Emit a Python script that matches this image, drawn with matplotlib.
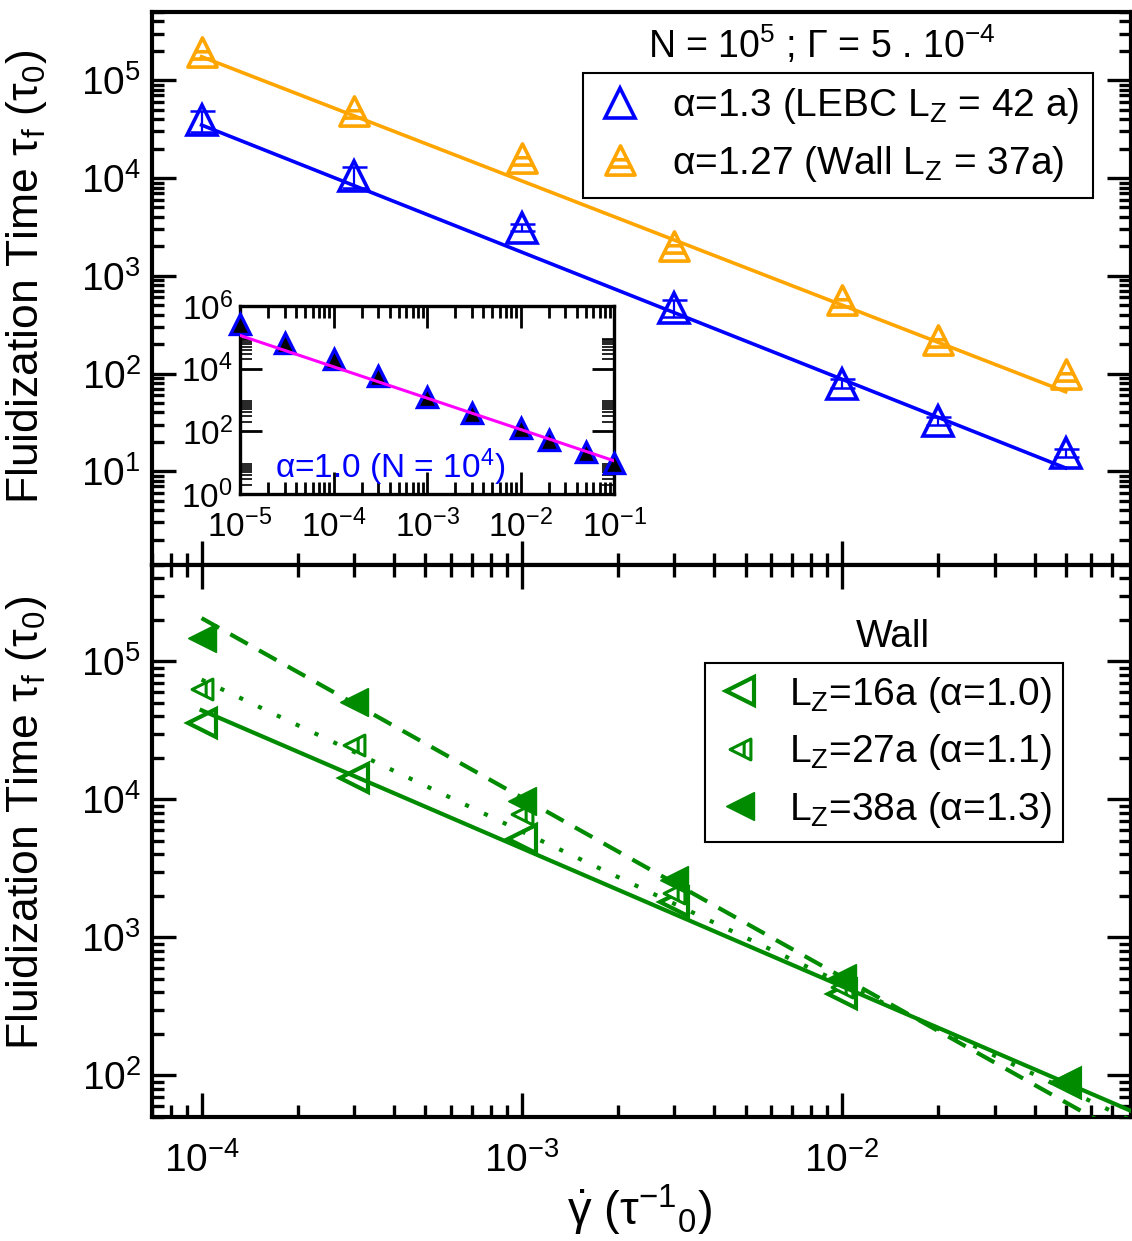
import numpy as np
import matplotlib
matplotlib.use("Agg")
import matplotlib.pyplot as plt
from matplotlib.path import Path
from matplotlib.lines import Line2D
from matplotlib.ticker import LogLocator, FixedLocator, NullFormatter

plt.rcParams['font.family'] = ['Liberation Sans', 'DejaVu Sans']
plt.rcParams['mathtext.fontset'] = 'custom'
plt.rcParams['mathtext.rm'] = 'Liberation Sans'
plt.rcParams['mathtext.it'] = 'Liberation Sans:italic'
plt.rcParams['mathtext.bf'] = 'Liberation Sans:bold'
plt.rcParams['axes.unicode_minus'] = False

# ---- top panel: N = 1e5, Gamma = 5e-4 ----
shear = [1e-4, 3e-4, 1e-3, 3e-3, 1e-2, 2e-2, 5e-2]
tau_lebc = [3.9e4, 1.04e4, 3.1e3, 4.7e2, 79, 33, 15.5]
tau_lebc_err = [9.4e3, 2.5e3, 2.5e2, 90, 8, 3, 1.5]
tau_wall37 = [1.95e5, 4.9e4, 1.6e4, 2.0e3, 5.6e2, 2.2e2, 1.0e2]

alpha_lebc, amp_lebc = 1.3, 0.22
alpha_wall37, amp_wall37 = 1.27, 1.45
fit_range_top = [1e-4, 5e-2]

# ---- inset: N = 1e4 ----
shear_small = [1e-5, 3e-5, 1e-4, 3e-4, 1e-3, 3e-3, 1e-2, 2e-2, 5e-2, 1e-1]
tau_small = [2.6e5, 6.6e4, 2.0e4, 5.8e3, 1.26e3, 3.8e2, 1.24e2, 52, 22, 9.6]
alpha_small, amp_small = 1.0, 1.15
fit_range_small = [1e-5, 1e-1]

# ---- bottom panel: wall, several L_Z ----
shear_wall = [1e-4, 3e-4, 1e-3, 3e-3, 1e-2, 5e-2]
tau_lz16 = [3.6e4, 1.44e4, 5.2e3, 1.8e3, 3.9e2, 88]
tau_lz27 = [6.3e4, 2.5e4, 7.8e3, 2.1e3, 4.4e2, 90]
tau_lz38 = [1.47e5, 5.1e4, 9.7e3, 2.6e3, 5.1e2, 91]
alpha_lz16, amp_lz16 = 1.0, 4.43
alpha_lz27, amp_lz27 = 1.1, 2.94
alpha_lz38, amp_lz38 = 1.3, 1.30
fit_range_wall = [1e-4, 1e-1]

BLUE = '#0000ff'
ORANGE = '#ffa500'
GREEN = '#008b00'
MAGENTA = '#ff00ff'


def power_law(xr, amp, alpha):
    xr = np.asarray(xr)
    return xr, amp * xr ** (-alpha)


M, L, C = Path.MOVETO, Path.LINETO, Path.CLOSEPOLY
# up triangle with two horizontal stripes inside
tri_striped = Path([(0, 1), (-1, -1), (1, -1), (0, 1),
                    (-0.52, 0.05), (0.52, 0.05), (-0.72, -0.45), (0.72, -0.45)],
                   [M, L, L, C, M, L, M, L])
# left triangle with one vertical stripe inside
left_striped = Path([(-1, 0), (1, 1), (1, -1), (-1, 0), (0.35, -0.67), (0.35, 0.67)],
                    [M, L, L, C, M, L])

W, H = 1132, 1241


def box(l, t, r, b):
    return [l / W, 1 - b / H, (r - l) / W, (b - t) / H]


fig = plt.figure(figsize=(W / 100, H / 100), dpi=100)
ax1 = fig.add_axes(box(152, 12, 1131, 565))
ax2 = fig.add_axes(box(152, 565, 1131, 1117))
axin = fig.add_axes(box(240, 306, 614, 494))


def style_axis(ax, major, minor, width, spine):
    for s in ax.spines.values():
        s.set_linewidth(spine)
    ax.set_xscale('log')
    ax.set_yscale('log')
    ax.tick_params(which='both', direction='in', width=width, left=True, right=True)
    ax.tick_params(which='major', length=major)
    ax.tick_params(which='minor', length=minor)


for ax in (ax1, ax2):
    style_axis(ax, 17, 8.5, 2.4, 3)
    ax.set_xlim(7e-5, 8e-2)
    ax.xaxis.set_major_locator(LogLocator(base=10, numticks=20))
    ax.xaxis.set_minor_locator(LogLocator(base=10, subs=np.arange(2, 10), numticks=20))
    ax.xaxis.set_minor_formatter(NullFormatter())
    ax.yaxis.set_major_locator(LogLocator(base=10, numticks=20))
    ax.yaxis.set_minor_locator(LogLocator(base=10, subs=np.arange(2, 10), numticks=20))
    ax.yaxis.set_minor_formatter(NullFormatter())
    ax.tick_params(axis='y', labelsize=28, pad=8)

ax1.set_ylim(1.1, 5e5)
ax1.tick_params(which='both', top=False, bottom=True, labelbottom=False)
ax2.set_ylim(50, 5e5)
ax2.tick_params(which='both', top=True, bottom=True)
ax2.tick_params(axis='x', labelsize=28, pad=18)

# top panel
ax1.plot(shear, tau_lebc, ls='none', marker='^', ms=21, mfc='white', mec=BLUE, mew=2.6, zorder=3)
ax1.errorbar(shear, tau_lebc, yerr=tau_lebc_err, fmt='none', ecolor=BLUE, elinewidth=1.6,
             capsize=9, capthick=1.8, zorder=4)
ax1.plot(shear, tau_wall37, ls='none', marker=tri_striped, ms=21, mfc='white', mec=ORANGE,
         mew=2.6, zorder=3)
ax1.plot(*power_law(fit_range_top, amp_lebc, alpha_lebc), color=BLUE, lw=2.6, zorder=5)
ax1.plot(*power_law(fit_range_top, amp_wall37, alpha_wall37), color=ORANGE, lw=2.6, zorder=5)

h_lebc = Line2D([], [], ls='none', marker='^', ms=21, mfc='white', mec=BLUE, mew=2.6)
h_wall = Line2D([], [], ls='none', marker=tri_striped, ms=21, mfc='white', mec=ORANGE, mew=2.6)
leg1 = ax1.legend([h_lebc, h_wall],
                  [r'α=1.3 (LEBC L$_\mathregular{Z}$ = 42 a)',
                   r'α=1.27 (Wall L$_\mathregular{Z}$ = 37a)'],
                  loc='upper left', bbox_to_anchor=(0.440, 0.890), borderaxespad=0,
                  fancybox=False, framealpha=1, edgecolor='black', fontsize=28,
                  handlelength=1.2, handletextpad=0.75, borderpad=0.35, labelspacing=0.45)
leg1.get_frame().set_linewidth(1.5)

ax1.text(0.684, 0.940, r'N = 10$^\mathregular{5}$ ; $\mathregular{\Gamma}$ = 5 . 10$^\mathregular{-4}$',
         transform=ax1.transAxes, ha='center', va='center', fontsize=27)

# inset
style_axis(axin, 16, 8.5, 2.0, 2.4)
axin.set_xlim(1e-5, 1e-1)
axin.set_ylim(1, 1e6)
axin.xaxis.set_major_locator(LogLocator(base=10, numticks=20))
axin.xaxis.set_minor_locator(LogLocator(base=10, subs=np.arange(2, 10), numticks=20))
axin.xaxis.set_minor_formatter(NullFormatter())
axin.yaxis.set_major_locator(FixedLocator([1, 1e2, 1e4, 1e6]))
axin.yaxis.set_minor_locator(FixedLocator([k * 10.0 ** j for j in (0, 2, 4) for k in range(2, 10)]))
axin.yaxis.set_minor_formatter(NullFormatter())
axin.tick_params(which='both', top=True, bottom=True)
axin.tick_params(axis='y', which='minor', width=1.2)
axin.tick_params(labelsize=24)
axin.tick_params(axis='x', pad=11)
axin.tick_params(axis='y', pad=5)
axin.plot(shear_small, tau_small, ls='none', marker='^', ms=15, mfc='black', mec=BLUE, mew=2.4,
          zorder=3, clip_on=False)
axin.plot(*power_law(fit_range_small, amp_small, alpha_small), color=MAGENTA, lw=2.2, zorder=4)
axin.text(0.094, 0.14, r'α=1.0 (N = 10$^\mathregular{4}$)', transform=axin.transAxes,
          ha='left', va='center', color=BLUE, fontsize=24)

# bottom panel
ax2.plot(shear_wall, tau_lz16, ls='none', marker='<', ms=20, mfc='white', mec=GREEN, mew=3, zorder=3)
ax2.plot(shear_wall, tau_lz27, ls='none', marker=left_striped, ms=15, mfc='white', mec=GREEN,
         mew=2.2, zorder=3)
ax2.plot(shear_wall, tau_lz38, ls='none', marker='<', ms=20, mfc=GREEN, mec=GREEN, mew=1, zorder=3)
ax2.plot(*power_law(fit_range_wall, amp_lz16, alpha_lz16), color=GREEN, lw=3, zorder=4)
ax2.plot(*power_law(fit_range_wall, amp_lz27, alpha_lz27), color=GREEN, lw=3,
         ls=(0, (1, 4)), zorder=4)
ax2.plot(*power_law(fit_range_wall, amp_lz38, alpha_lz38), color=GREEN, lw=3,
         ls=(0, (4.8, 3.1)), zorder=4)

h16 = Line2D([], [], ls='none', marker='<', ms=20, mfc='white', mec=GREEN, mew=3)
h27 = Line2D([], [], ls='none', marker=left_striped, ms=15, mfc='white', mec=GREEN, mew=2.2)
h38 = Line2D([], [], ls='none', marker='<', ms=20, mfc=GREEN, mec=GREEN, mew=1)
leg2 = ax2.legend([h16, h27, h38],
                  [r'L$_\mathregular{Z}$=16a (α=1.0)',
                   r'L$_\mathregular{Z}$=27a (α=1.1)',
                   r'L$_\mathregular{Z}$=38a (α=1.3)'],
                  loc='upper left', bbox_to_anchor=(0.565, 0.822), borderaxespad=0,
                  fancybox=False, framealpha=1, edgecolor='black', fontsize=28,
                  handlelength=1.2, handletextpad=0.65, borderpad=0.3, labelspacing=0.45)
leg2.get_frame().set_linewidth(1.5)
ax2.text(0.757, 0.870, 'Wall', transform=ax2.transAxes, ha='center', va='center', fontsize=28)

# axis labels
ylab = r'Fluidization Time $\mathregular{\tau_f}$ ($\mathregular{\tau_0}$)'
fig.text(27 / W, 1 - 277 / H, ylab, rotation=90, ha='center', va='center', fontsize=32)
fig.text(27 / W, 1 - 823 / H, ylab, rotation=90, ha='center', va='center', fontsize=32)
fig.text(640 / W, 1 - 1210 / H, r'$\dot{\mathregular{\gamma}}$ ($\mathregular{\tau^{-1}{}_{0}}$)',
         ha='center', va='center', fontsize=34)

fig.savefig('out.png', dpi=100)
